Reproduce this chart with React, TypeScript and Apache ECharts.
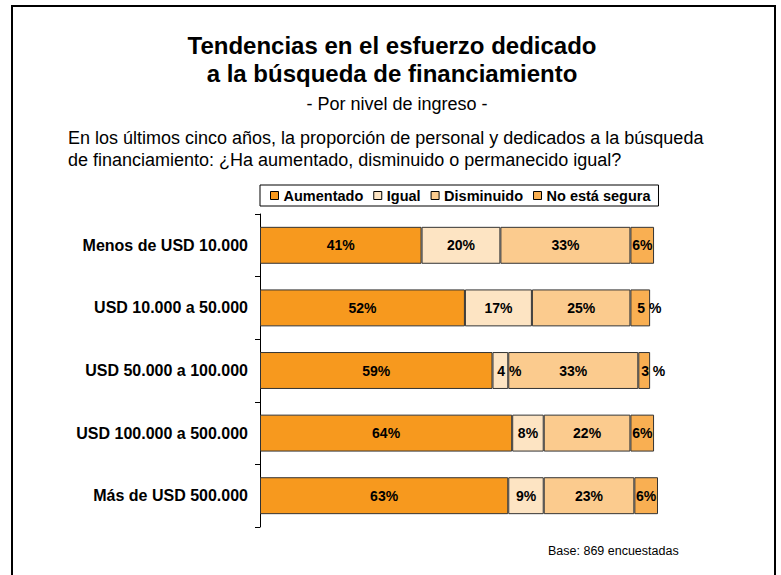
import React, { useEffect, useRef } from "react";
import * as echarts from "echarts";

const categories = [
  "Menos de USD 10.000",
  "USD 10.000 a 50.000",
  "USD 50.000 a 100.000",
  "USD 100.000 a 500.000",
  "Más de USD 500.000",
];
const seriesNames = ["Aumentado", "Igual", "Disminuido", "No está segura"];
const aumentado = [41, 52, 59, 64, 63];
const igual = [20, 17, 4, 8, 9];
const disminuido = [33, 25, 33, 22, 23];
const noSegura = [6, 5, 3, 6, 6];
const colors = ["#F7991E", "#FDE4C3", "#FBCB8E", "#F9AF52"];

const FONT = "Liberation Sans, Arial, Helvetica, sans-serif";

export default function App() {
  const ref = useRef<HTMLDivElement>(null);
  useEffect(() => {
    if (!ref.current) return;
    const chart = echarts.init(ref.current, null, { renderer: "svg" });
    const values = [aumentado, igual, disminuido, noSegura];
    chart.setOption({
      animation: false,
      backgroundColor: "#ffffff",
      textStyle: { fontFamily: FONT },
      title: [
        {
          text: "Tendencias en el esfuerzo dedicado\na la búsqueda de financiamiento",
          left: 392,
          top: 31,
          padding: 0,
          textAlign: "center",
          textStyle: { fontFamily: FONT, fontSize: 24, fontWeight: "bold", color: "#000", lineHeight: 28 },
        },
        {
          text: "- Por nivel de ingreso -",
          left: 397,
          top: 94,
          padding: 0,
          textAlign: "center",
          textStyle: { fontFamily: FONT, fontSize: 18, fontWeight: "normal", color: "#000", lineHeight: 19 },
        },
        {
          text: "En los últimos cinco años, la proporción de personal y dedicados a la búsqueda\nde financiamiento: ¿Ha aumentado, disminuido o permanecido igual?",
          left: 68,
          top: 127,
          padding: 0,
          textStyle: { fontFamily: FONT, fontSize: 18, fontWeight: "normal", color: "#000", lineHeight: 22 },
        },
        {
          text: "Base: 869 encuestadas",
          left: 548,
          top: 544,
          padding: 0,
          textStyle: { fontFamily: FONT, fontSize: 12.5, fontWeight: "normal", color: "#000", lineHeight: 14 },
        },
      ],
      graphic: [
        {
          type: "rect",
          shape: { x: 12, y: 6, width: 763, height: 600 },
          style: { fill: "none", stroke: "#000", lineWidth: 2 },
          silent: true,
        },
      ],
      legend: {
        left: 260,
        top: 185,
        data: seriesNames,
        icon: "rect",
        itemWidth: 8,
        itemHeight: 8,
        itemGap: 10,
        padding: [3, 8, 3, 10],
        borderColor: "#000",
        borderWidth: 1,
        itemStyle: { borderColor: "#000", borderWidth: 1 },
        textStyle: { fontFamily: FONT, fontSize: 14.5, fontWeight: "bold", color: "#000" },
      },
      grid: { left: 260, top: 214, width: 398, height: 313 },
      xAxis: { type: "value", min: 0, max: 101, show: false },
      yAxis: {
        type: "category",
        inverse: true,
        data: categories,
        axisLine: { show: true, lineStyle: { color: "#000", width: 1 } },
        axisTick: { show: true, length: 5, lineStyle: { color: "#000" } },
        axisLabel: { margin: 12, fontFamily: FONT, fontSize: 16, fontWeight: "bold", color: "#000" },
      },
      series: seriesNames.map((name, i) => ({
        name,
        type: "bar",
        stack: "total",
        barWidth: "59%",
        data: values[i].map((v) =>
          v <= 5
            ? { value: v, label: { formatter: "{c} %", offset: [9, 0] } }
            : v
        ),
        itemStyle: { color: colors[i], borderColor: "#333", borderWidth: 1 },
        label: {
          show: true,
          position: "inside",
          formatter: "{c}%",
          fontFamily: FONT,
          fontSize: 14,
          fontWeight: "bold",
          color: "#000",
        },
      })),
    });
    return () => chart.dispose();
  }, []);
  return (
    <div
      ref={ref}
      style={{ position: "absolute", left: 0, top: 0, width: 781, height: 575 }}
    />
  );
}
